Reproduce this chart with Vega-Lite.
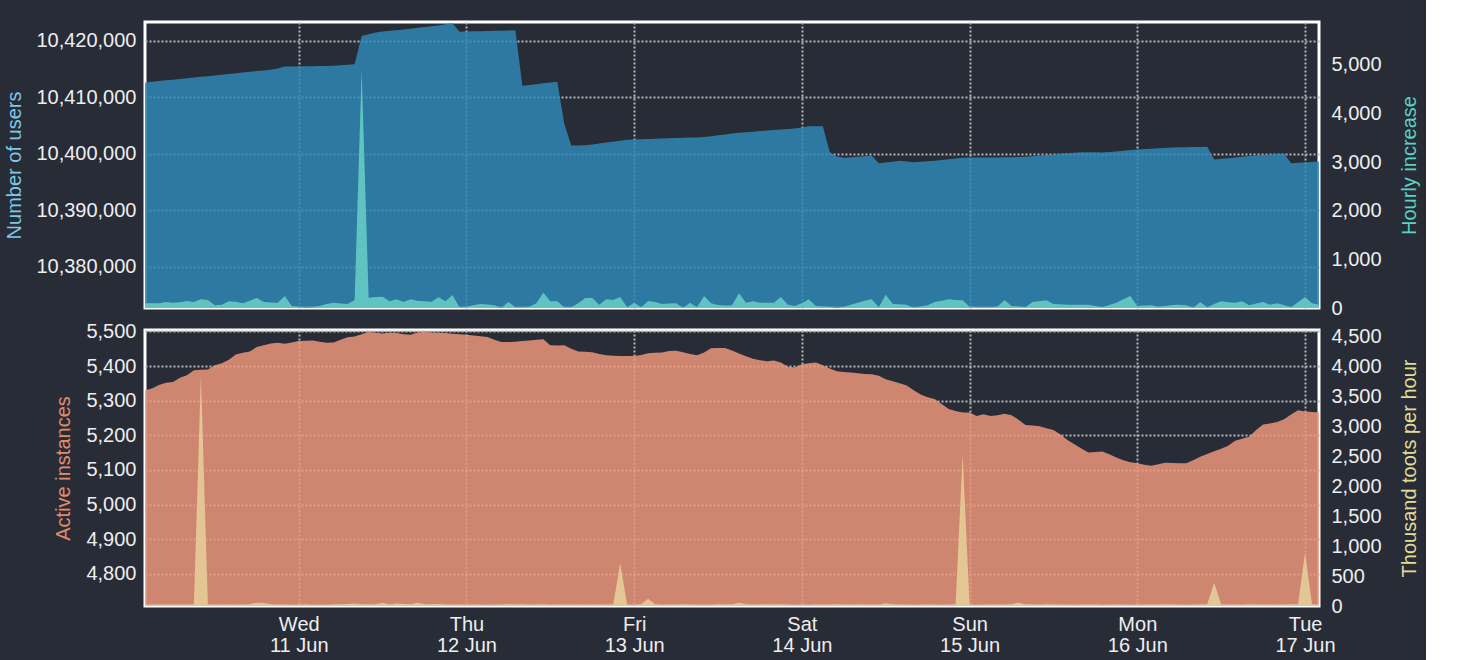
{
"$schema": "https://vega.github.io/schema/vega-lite/v6.json",
"background": "#282c37",
"padding": {"left": 3, "top": 20, "right": 5, "bottom": 5},
"config": {
  "font": "Liberation Sans",
  "view": {"stroke": "#ffffff", "strokeWidth": 3},
  "axis": {"labelFont": "Liberation Sans", "labelFontSize": 20, "labelColor": "#eeeeee", "titleFont": "Liberation Sans", "titleFontSize": 20, "titleFontWeight": "normal", "ticks": false, "domain": false, "gridColor": "#b4b4b4", "gridDash": [2, 2], "gridWidth": 2, "gridOpacity": 1, "labelFlush": false}
},
"datasets": {"d": [
{"time":"2025-06-10T02:00","users":10412630,"increase":96,"instances":5330,"toots":20},
{"time":"2025-06-10T03:00","users":10412760,"increase":96,"instances":5335,"toots":20},
{"time":"2025-06-10T04:00","users":10412880,"increase":100,"instances":5345,"toots":20},
{"time":"2025-06-10T05:00","users":10413010,"increase":123,"instances":5352,"toots":20},
{"time":"2025-06-10T06:00","users":10413130,"increase":110,"instances":5354,"toots":20},
{"time":"2025-06-10T07:00","users":10413260,"increase":120,"instances":5366,"toots":20},
{"time":"2025-06-10T08:00","users":10413390,"increase":144,"instances":5373,"toots":20},
{"time":"2025-06-10T09:00","users":10413510,"increase":123,"instances":5388,"toots":25},
{"time":"2025-06-10T10:00","users":10413640,"increase":178,"instances":5389,"toots":3840},
{"time":"2025-06-10T11:00","users":10413760,"increase":164,"instances":5390,"toots":25},
{"time":"2025-06-10T12:00","users":10413890,"increase":55,"instances":5402,"toots":20},
{"time":"2025-06-10T13:00","users":10414020,"increase":68,"instances":5408,"toots":22},
{"time":"2025-06-10T14:00","users":10414140,"increase":137,"instances":5418,"toots":25},
{"time":"2025-06-10T15:00","users":10414270,"increase":130,"instances":5433,"toots":22},
{"time":"2025-06-10T16:00","users":10414390,"increase":96,"instances":5438,"toots":20},
{"time":"2025-06-10T17:00","users":10414520,"increase":150,"instances":5442,"toots":30},
{"time":"2025-06-10T18:00","users":10414650,"increase":205,"instances":5455,"toots":55},
{"time":"2025-06-10T19:00","users":10414770,"increase":123,"instances":5460,"toots":50},
{"time":"2025-06-10T20:00","users":10414900,"increase":115,"instances":5465,"toots":30},
{"time":"2025-06-10T21:00","users":10415100,"increase":110,"instances":5467,"toots":20},
{"time":"2025-06-10T22:00","users":10415460,"increase":246,"instances":5464,"toots":25},
{"time":"2025-06-10T23:00","users":10415480,"increase":41,"instances":5468,"toots":15},
{"time":"2025-06-11T00:00","users":10415500,"increase":27,"instances":5472,"toots":20},
{"time":"2025-06-11T01:00","users":10415510,"increase":0,"instances":5473,"toots":25},
{"time":"2025-06-11T02:00","users":10415530,"increase":20,"instances":5474,"toots":15},
{"time":"2025-06-11T03:00","users":10415550,"increase":41,"instances":5470,"toots":20},
{"time":"2025-06-11T04:00","users":10415570,"increase":80,"instances":5467,"toots":15},
{"time":"2025-06-11T05:00","users":10415590,"increase":110,"instances":5468,"toots":25},
{"time":"2025-06-11T06:00","users":10415700,"increase":95,"instances":5476,"toots":30},
{"time":"2025-06-11T07:00","users":10415800,"increase":82,"instances":5483,"toots":35},
{"time":"2025-06-11T08:00","users":10415880,"increase":164,"instances":5485,"toots":40},
{"time":"2025-06-11T09:00","users":10420880,"increase":4900,"instances":5492,"toots":30},
{"time":"2025-06-11T10:00","users":10421180,"increase":212,"instances":5498,"toots":25},
{"time":"2025-06-11T11:00","users":10421480,"increase":225,"instances":5496,"toots":30},
{"time":"2025-06-11T12:00","users":10421690,"increase":232,"instances":5494,"toots":55},
{"time":"2025-06-11T13:00","users":10421800,"increase":137,"instances":5496,"toots":25},
{"time":"2025-06-11T14:00","users":10421900,"increase":178,"instances":5495,"toots":40},
{"time":"2025-06-11T15:00","users":10422010,"increase":123,"instances":5492,"toots":35},
{"time":"2025-06-11T16:00","users":10422180,"increase":178,"instances":5490,"toots":30},
{"time":"2025-06-11T17:00","users":10422330,"increase":150,"instances":5497,"toots":55},
{"time":"2025-06-11T18:00","users":10422470,"increase":137,"instances":5498,"toots":30},
{"time":"2025-06-11T19:00","users":10422620,"increase":130,"instances":5497,"toots":30},
{"time":"2025-06-11T20:00","users":10422740,"increase":219,"instances":5496,"toots":35},
{"time":"2025-06-11T21:00","users":10422940,"increase":137,"instances":5495,"toots":25},
{"time":"2025-06-11T22:00","users":10423120,"increase":267,"instances":5493,"toots":20},
{"time":"2025-06-11T23:00","users":10421650,"increase":14,"instances":5492,"toots":25},
{"time":"2025-06-12T00:00","users":10421680,"increase":27,"instances":5490,"toots":20},
{"time":"2025-06-12T01:00","users":10421710,"increase":55,"instances":5488,"toots":25},
{"time":"2025-06-12T02:00","users":10421740,"increase":82,"instances":5486,"toots":20},
{"time":"2025-06-12T03:00","users":10421770,"increase":70,"instances":5484,"toots":15},
{"time":"2025-06-12T04:00","users":10421800,"increase":55,"instances":5476,"toots":20},
{"time":"2025-06-12T05:00","users":10421830,"increase":0,"instances":5469,"toots":20},
{"time":"2025-06-12T06:00","users":10421860,"increase":123,"instances":5469,"toots":35},
{"time":"2025-06-12T07:00","users":10421890,"increase":14,"instances":5470,"toots":25},
{"time":"2025-06-12T08:00","users":10412050,"increase":14,"instances":5472,"toots":30},
{"time":"2025-06-12T09:00","users":10412200,"increase":27,"instances":5474,"toots":20},
{"time":"2025-06-12T10:00","users":10412340,"increase":100,"instances":5476,"toots":25},
{"time":"2025-06-12T11:00","users":10412480,"increase":315,"instances":5477,"toots":30},
{"time":"2025-06-12T12:00","users":10412620,"increase":137,"instances":5460,"toots":20},
{"time":"2025-06-12T13:00","users":10412760,"increase":137,"instances":5459,"toots":25},
{"time":"2025-06-12T14:00","users":10405280,"increase":14,"instances":5460,"toots":22},
{"time":"2025-06-12T15:00","users":10401450,"increase":14,"instances":5450,"toots":20},
{"time":"2025-06-12T16:00","users":10401450,"increase":100,"instances":5442,"toots":25},
{"time":"2025-06-12T17:00","users":10401500,"increase":205,"instances":5441,"toots":20},
{"time":"2025-06-12T18:00","users":10401660,"increase":205,"instances":5440,"toots":20},
{"time":"2025-06-12T19:00","users":10401820,"increase":68,"instances":5435,"toots":25},
{"time":"2025-06-12T20:00","users":10401980,"increase":178,"instances":5431,"toots":20},
{"time":"2025-06-12T21:00","users":10402140,"increase":164,"instances":5430,"toots":25},
{"time":"2025-06-12T22:00","users":10402300,"increase":226,"instances":5429,"toots":711},
{"time":"2025-06-12T23:00","users":10402460,"increase":14,"instances":5429,"toots":20},
{"time":"2025-06-13T00:00","users":10402540,"increase":110,"instances":5429,"toots":15},
{"time":"2025-06-13T01:00","users":10402580,"increase":14,"instances":5432,"toots":30},
{"time":"2025-06-13T02:00","users":10402620,"increase":144,"instances":5437,"toots":122},
{"time":"2025-06-13T03:00","users":10402660,"increase":123,"instances":5438,"toots":30},
{"time":"2025-06-13T04:00","users":10402700,"increase":82,"instances":5439,"toots":15},
{"time":"2025-06-13T05:00","users":10402740,"increase":90,"instances":5443,"toots":25},
{"time":"2025-06-13T06:00","users":10402780,"increase":96,"instances":5444,"toots":20},
{"time":"2025-06-13T07:00","users":10402820,"increase":0,"instances":5440,"toots":30},
{"time":"2025-06-13T08:00","users":10402860,"increase":110,"instances":5435,"toots":25},
{"time":"2025-06-13T09:00","users":10402900,"increase":14,"instances":5431,"toots":20},
{"time":"2025-06-13T10:00","users":10402950,"increase":246,"instances":5439,"toots":15},
{"time":"2025-06-13T11:00","users":10403110,"increase":96,"instances":5451,"toots":20},
{"time":"2025-06-13T12:00","users":10403270,"increase":60,"instances":5452,"toots":30},
{"time":"2025-06-13T13:00","users":10403430,"increase":50,"instances":5452,"toots":25},
{"time":"2025-06-13T14:00","users":10403590,"increase":55,"instances":5445,"toots":30},
{"time":"2025-06-13T15:00","users":10403730,"increase":301,"instances":5436,"toots":55},
{"time":"2025-06-13T16:00","users":10403830,"increase":110,"instances":5428,"toots":30},
{"time":"2025-06-13T17:00","users":10403920,"increase":137,"instances":5421,"toots":20},
{"time":"2025-06-13T18:00","users":10404020,"increase":110,"instances":5417,"toots":25},
{"time":"2025-06-13T19:00","users":10404110,"increase":110,"instances":5414,"toots":30},
{"time":"2025-06-13T20:00","users":10404210,"increase":110,"instances":5416,"toots":25},
{"time":"2025-06-13T21:00","users":10404300,"increase":226,"instances":5410,"toots":30},
{"time":"2025-06-13T22:00","users":10404400,"increase":68,"instances":5398,"toots":20},
{"time":"2025-06-13T23:00","users":10404490,"increase":41,"instances":5396,"toots":15},
{"time":"2025-06-14T00:00","users":10404660,"increase":100,"instances":5405,"toots":20},
{"time":"2025-06-14T01:00","users":10404860,"increase":178,"instances":5408,"toots":15},
{"time":"2025-06-14T02:00","users":10404860,"increase":41,"instances":5410,"toots":25},
{"time":"2025-06-14T03:00","users":10404860,"increase":30,"instances":5402,"toots":20},
{"time":"2025-06-14T04:00","users":10400270,"increase":27,"instances":5393,"toots":25},
{"time":"2025-06-14T05:00","users":10399500,"increase":0,"instances":5385,"toots":30},
{"time":"2025-06-14T06:00","users":10399300,"increase":20,"instances":5383,"toots":25},
{"time":"2025-06-14T07:00","users":10399390,"increase":68,"instances":5381,"toots":20},
{"time":"2025-06-14T08:00","users":10399480,"increase":110,"instances":5379,"toots":30},
{"time":"2025-06-14T09:00","users":10399570,"increase":150,"instances":5377,"toots":20},
{"time":"2025-06-14T10:00","users":10399660,"increase":178,"instances":5376,"toots":25},
{"time":"2025-06-14T11:00","users":10398320,"increase":14,"instances":5372,"toots":20},
{"time":"2025-06-14T12:00","users":10398460,"increase":274,"instances":5362,"toots":45},
{"time":"2025-06-14T13:00","users":10398600,"increase":82,"instances":5356,"toots":30},
{"time":"2025-06-14T14:00","users":10398740,"increase":75,"instances":5350,"toots":25},
{"time":"2025-06-14T15:00","users":10398620,"increase":68,"instances":5344,"toots":20},
{"time":"2025-06-14T16:00","users":10398510,"increase":0,"instances":5330,"toots":15},
{"time":"2025-06-14T17:00","users":10398590,"increase":30,"instances":5318,"toots":20},
{"time":"2025-06-14T18:00","users":10398660,"increase":55,"instances":5310,"toots":25},
{"time":"2025-06-14T19:00","users":10398780,"increase":123,"instances":5305,"toots":20},
{"time":"2025-06-14T20:00","users":10398910,"increase":150,"instances":5290,"toots":15},
{"time":"2025-06-14T21:00","users":10399030,"increase":178,"instances":5276,"toots":20},
{"time":"2025-06-14T22:00","users":10399160,"increase":165,"instances":5270,"toots":25},
{"time":"2025-06-14T23:00","users":10399280,"increase":157,"instances":5266,"toots":2520},
{"time":"2025-06-15T00:00","users":10399330,"increase":27,"instances":5266,"toots":20},
{"time":"2025-06-15T01:00","users":10399330,"increase":14,"instances":5256,"toots":15},
{"time":"2025-06-15T02:00","users":10399340,"increase":14,"instances":5261,"toots":20},
{"time":"2025-06-15T03:00","users":10399340,"increase":14,"instances":5256,"toots":20},
{"time":"2025-06-15T04:00","users":10399350,"increase":30,"instances":5258,"toots":25},
{"time":"2025-06-15T05:00","users":10399360,"increase":164,"instances":5262,"toots":20},
{"time":"2025-06-15T06:00","users":10399400,"increase":41,"instances":5258,"toots":30},
{"time":"2025-06-15T07:00","users":10399440,"increase":30,"instances":5245,"toots":55},
{"time":"2025-06-15T08:00","users":10399480,"increase":14,"instances":5230,"toots":30},
{"time":"2025-06-15T09:00","users":10399550,"increase":123,"instances":5228,"toots":25},
{"time":"2025-06-15T10:00","users":10399660,"increase":140,"instances":5226,"toots":20},
{"time":"2025-06-15T11:00","users":10399760,"increase":157,"instances":5220,"toots":30},
{"time":"2025-06-15T12:00","users":10399870,"increase":82,"instances":5215,"toots":25},
{"time":"2025-06-15T13:00","users":10399980,"increase":75,"instances":5202,"toots":20},
{"time":"2025-06-15T14:00","users":10400080,"increase":68,"instances":5186,"toots":20},
{"time":"2025-06-15T15:00","users":10400190,"increase":68,"instances":5174,"toots":15},
{"time":"2025-06-15T16:00","users":10400270,"increase":68,"instances":5162,"toots":25},
{"time":"2025-06-15T17:00","users":10400260,"increase":68,"instances":5150,"toots":20},
{"time":"2025-06-15T18:00","users":10400250,"increase":40,"instances":5152,"toots":25},
{"time":"2025-06-15T19:00","users":10400240,"increase":14,"instances":5153,"toots":15},
{"time":"2025-06-15T20:00","users":10400300,"increase":60,"instances":5145,"toots":20},
{"time":"2025-06-15T21:00","users":10400420,"increase":110,"instances":5136,"toots":25},
{"time":"2025-06-15T22:00","users":10400540,"increase":180,"instances":5128,"toots":20},
{"time":"2025-06-15T23:00","users":10400660,"increase":246,"instances":5122,"toots":15},
{"time":"2025-06-16T00:00","users":10400750,"increase":41,"instances":5119,"toots":20},
{"time":"2025-06-16T01:00","users":10400820,"increase":50,"instances":5115,"toots":20},
{"time":"2025-06-16T02:00","users":10400890,"increase":55,"instances":5112,"toots":25},
{"time":"2025-06-16T03:00","users":10400960,"increase":27,"instances":5116,"toots":20},
{"time":"2025-06-16T04:00","users":10401020,"increase":41,"instances":5121,"toots":30},
{"time":"2025-06-16T05:00","users":10401090,"increase":60,"instances":5120,"toots":25},
{"time":"2025-06-16T06:00","users":10401150,"increase":68,"instances":5119,"toots":20},
{"time":"2025-06-16T07:00","users":10401170,"increase":55,"instances":5119,"toots":15},
{"time":"2025-06-16T08:00","users":10401190,"increase":0,"instances":5128,"toots":20},
{"time":"2025-06-16T09:00","users":10401210,"increase":123,"instances":5138,"toots":25},
{"time":"2025-06-16T10:00","users":10401220,"increase":14,"instances":5146,"toots":30},
{"time":"2025-06-16T11:00","users":10398980,"increase":80,"instances":5154,"toots":389},
{"time":"2025-06-16T12:00","users":10399100,"increase":137,"instances":5161,"toots":25},
{"time":"2025-06-16T13:00","users":10399220,"increase":120,"instances":5170,"toots":20},
{"time":"2025-06-16T14:00","users":10399340,"increase":110,"instances":5184,"toots":25},
{"time":"2025-06-16T15:00","users":10399460,"increase":137,"instances":5190,"toots":20},
{"time":"2025-06-16T16:00","users":10399580,"increase":55,"instances":5196,"toots":30},
{"time":"2025-06-16T17:00","users":10399700,"increase":90,"instances":5215,"toots":25},
{"time":"2025-06-16T18:00","users":10399790,"increase":123,"instances":5231,"toots":20},
{"time":"2025-06-16T19:00","users":10399880,"increase":68,"instances":5234,"toots":25},
{"time":"2025-06-16T20:00","users":10399970,"increase":96,"instances":5238,"toots":20},
{"time":"2025-06-16T21:00","users":10400030,"increase":60,"instances":5246,"toots":25},
{"time":"2025-06-16T22:00","users":10398320,"increase":14,"instances":5260,"toots":30},
{"time":"2025-06-16T23:00","users":10398400,"increase":120,"instances":5272,"toots":25},
{"time":"2025-06-17T00:00","users":10398470,"increase":226,"instances":5269,"toots":889},
{"time":"2025-06-17T01:00","users":10398550,"increase":100,"instances":5267,"toots":30},
{"time":"2025-06-17T02:00","users":10398620,"increase":68,"instances":5266,"toots":20}
]},
"data": {"name": "d"},
"bounds": "flush",
"spacing": 22,
"vconcat": [
  {
    "width": 1174,
    "height": 286,
    "layer": [
      {
        "mark": {"type": "area", "color": "#2f87b4", "opacity": 0.85, "clip": true},
        "encoding": {
          "x": {"field": "time", "type": "temporal", "scale": {"domain": [{"year": 2025, "month": 6, "date": 10, "hours": 2}, {"year": 2025, "month": 6, "date": 17, "hours": 2}]}, "axis": {"labels": false, "title": null, "grid": true, "tickCount": {"interval": "day", "step": 1}}},
          "y": {"field": "users", "type": "quantitative", "scale": {"domain": [10372650, 10423360], "zero": false, "nice": false}, "axis": {"orient": "left", "title": "Number of users", "titleColor": "#7dc8e6", "values": [10380000, 10390000, 10400000, 10410000, 10420000], "format": ",d", "grid": true, "labelPadding": 9, "titlePadding": 11}}
        }
      },
      {
        "mark": {"type": "area", "color": "#5fc4c1", "clip": true},
        "encoding": {
          "x": {"field": "time", "type": "temporal"},
          "y": {"field": "increase", "type": "quantitative", "scale": {"domain": [0, 5880], "nice": false}, "axis": {"orient": "right", "title": "Hourly increase", "titleColor": "#5ad2c3", "titleAngle": 270, "titleBaseline": "top", "values": [0, 1000, 2000, 3000, 4000, 5000], "format": ",d", "grid": false, "labelPadding": 12, "titlePadding": 18}}
        }
      }
    ],
    "resolve": {"scale": {"y": "independent"}}
  },
  {
    "width": 1174,
    "height": 276,
    "layer": [
      {
        "mark": {"type": "area", "color": "#eb977b", "opacity": 0.85, "clip": true},
        "encoding": {
          "x": {"field": "time", "type": "temporal", "scale": {"domain": [{"year": 2025, "month": 6, "date": 10, "hours": 2}, {"year": 2025, "month": 6, "date": 17, "hours": 2}]}, "axis": {"title": null, "grid": true, "tickCount": {"interval": "day", "step": 1}, "labelExpr": "[timeFormat(datum.value, '%a'), timeFormat(datum.value, '%d %b')]", "labelLineHeight": 21, "labelPadding": 8}},
          "y": {"field": "instances", "type": "quantitative", "scale": {"domain": [4707, 5504], "zero": false, "nice": false}, "axis": {"orient": "left", "title": "Active instances", "titleColor": "#e38c6c", "values": [4800, 4900, 5000, 5100, 5200, 5300, 5400, 5500], "format": ",d", "grid": true, "labelPadding": 9, "titlePadding": 12}}
        }
      },
      {
        "mark": {"type": "area", "color": "#e4c594", "clip": true},
        "encoding": {
          "x": {"field": "time", "type": "temporal"},
          "y": {"field": "toots", "type": "quantitative", "scale": {"domain": [0, 4600], "nice": false}, "axis": {"orient": "right", "title": "Thousand toots per hour", "titleColor": "#e1dc96", "titleAngle": 270, "titleBaseline": "top", "values": [0, 500, 1000, 1500, 2000, 2500, 3000, 3500, 4000, 4500], "format": ",d", "grid": false, "labelPadding": 12, "titlePadding": 18}}
        }
      }
    ],
    "resolve": {"scale": {"y": "independent"}}
  }
]
}
